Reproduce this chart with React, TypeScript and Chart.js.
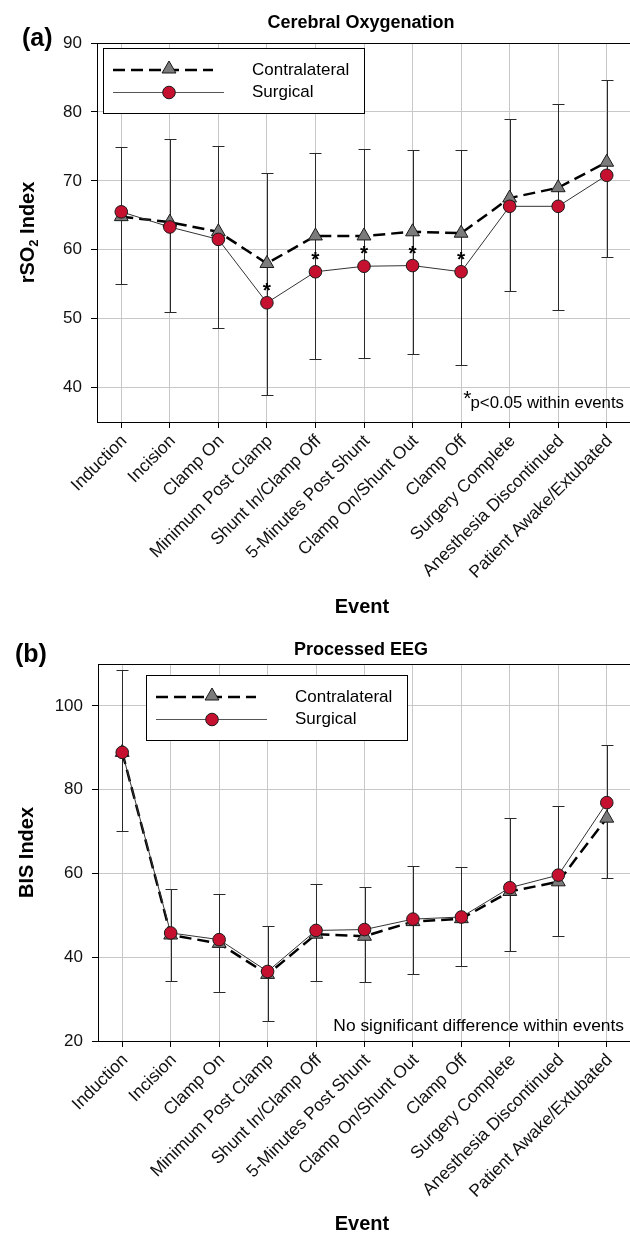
import React, { useEffect, useRef } from 'react';
import { Chart, registerables } from 'chart.js';

Chart.register(...registerables);

// ---------- DATA ----------
const events = [
  'Induction',
  'Incision',
  'Clamp On',
  'Minimum Post Clamp',
  'Shunt In/Clamp Off',
  '5-Minutes Post Shunt',
  'Clamp On/Shunt Out',
  'Clamp Off',
  'Surgery Complete',
  'Anesthesia Discontinued',
  'Patient Awake/Extubated',
];

const seriesLabels = ['Contralateral', 'Surgical'];

// (a) Cerebral Oxygenation (rSO2 index)
const rso2Contralateral = [64.8, 64.0, 62.6, 58.0, 62.0, 62.0, 62.6, 62.4, 67.5, 69.0, 72.7];
const rso2Surgical = [65.5, 63.3, 61.5, 52.3, 56.8, 57.6, 57.7, 56.8, 66.3, 66.3, 70.8];
const rso2ErrHigh = [74.9, 76.0, 75.1, 71.2, 74.0, 74.6, 74.5, 74.5, 79.0, 81.2, 84.7];
const rso2ErrLow = [55.0, 50.9, 48.7, 38.9, 44.1, 44.3, 44.9, 43.2, 54.0, 51.2, 58.9];
const rso2Significant = [false, false, false, true, true, true, true, true, false, false, false];
const rso2Ticks = [40, 50, 60, 70, 80, 90];

// (b) Processed EEG (BIS index)
const bisContralateral = [88.9, 45.3, 43.3, 35.9, 45.5, 45.0, 48.5, 49.2, 55.7, 58.0, 73.2];
const bisSurgical = [88.9, 45.8, 44.2, 36.6, 46.4, 46.6, 49.1, 49.6, 56.6, 59.6, 76.9];
const bisErrHigh = [108.5, 56.2, 55.0, 47.4, 57.4, 56.8, 61.8, 61.5, 73.2, 76.1, 90.7];
const bisErrLow = [70.2, 34.3, 31.8, 24.8, 34.4, 34.1, 36.0, 37.9, 41.6, 45.1, 58.8];
const bisSignificant = [false, false, false, false, false, false, false, false, false, false, false];
const bisTicks = [20, 40, 60, 80, 100];

// ---------- STYLE ----------
const FONT = "'Liberation Sans', Arial, Helvetica, sans-serif";
const RED = '#c5102f';
const GRAY = '#7b7b7b';
const EDGE = '#1a1a1a';
const GRID = '#c8c8c8';
const DASH = [12, 6];

type Panel = {
  contra: number[];
  surgical: number[];
  errHigh: number[];
  errLow: number[];
  significant: boolean[];
  yMin: number;
  yMax: number;
  yTicks: number[];
  title: string;
  panelLabel: string;
  yTitleMain: string;
  yTitleSub: string;
  yTitleRest: string;
  note: string;
  noteStar: boolean;
  noteSize: number;
  // layout (canvas coords)
  canvasTop: number;
  padTop: number;
  xHeight: number;
  yWidth: number;
  titleBaseline: number;
  panelLabelX: number;
  panelLabelBaseline: number;
  yTitleX: number;
  legendX: number;
  legendY: number;
  noteRight: number;
  noteBaseline: number;
};

const CANVAS_W = 640;
const CANVAS_H = 617;

const panels: Panel[] = [
  {
    contra: rso2Contralateral,
    surgical: rso2Surgical,
    errHigh: rso2ErrHigh,
    errLow: rso2ErrLow,
    significant: rso2Significant,
    yMin: 35,
    yMax: 90,
    yTicks: rso2Ticks,
    title: 'Cerebral Oxygenation',
    panelLabel: '(a)',
    yTitleMain: 'rSO',
    yTitleSub: '2',
    yTitleRest: ' Index',
    note: 'p<0.05 within events',
    noteStar: true,
    noteSize: 16.8,
    canvasTop: 0,
    padTop: 43,
    xHeight: 195,
    yWidth: 97,
    titleBaseline: 28,
    panelLabelX: 22,
    panelLabelBaseline: 46,
    yTitleX: 28,
    legendX: 103,
    legendY: 48,
    noteRight: 624,
    noteBaseline: 408,
  },
  {
    contra: bisContralateral,
    surgical: bisSurgical,
    errHigh: bisErrHigh,
    errLow: bisErrLow,
    significant: bisSignificant,
    yMin: 20,
    yMax: 110,
    yTicks: bisTicks,
    title: 'Processed EEG',
    panelLabel: '(b)',
    yTitleMain: 'BIS Index',
    yTitleSub: '',
    yTitleRest: '',
    note: 'No significant difference within events',
    noteStar: false,
    noteSize: 17.4,
    canvasTop: 617,
    padTop: 47,
    xHeight: 193,
    yWidth: 98,
    titleBaseline: 38,
    panelLabelX: 15,
    panelLabelBaseline: 45,
    yTitleX: 27,
    legendX: 146,
    legendY: 58,
    noteRight: 624,
    noteBaseline: 414,
  },
];

function drawTriangle(ctx: CanvasRenderingContext2D, x: number, y: number, r: number) {
  ctx.beginPath();
  for (let k = 0; k < 3; k++) {
    const a = (k * 2 * Math.PI) / 3;
    const px = x + Math.sin(a) * r;
    const py = y - Math.cos(a) * r;
    if (k === 0) ctx.moveTo(px, py);
    else ctx.lineTo(px, py);
  }
  ctx.closePath();
  ctx.fillStyle = GRAY;
  ctx.fill();
  ctx.lineWidth = 1;
  ctx.strokeStyle = EDGE;
  ctx.stroke();
}

function drawCircle(ctx: CanvasRenderingContext2D, x: number, y: number, r: number) {
  ctx.beginPath();
  ctx.arc(x, y, r, 0, Math.PI * 2);
  ctx.fillStyle = RED;
  ctx.fill();
  ctx.lineWidth = 1;
  ctx.strokeStyle = EDGE;
  ctx.stroke();
}

function makePlugin(p: Panel) {
  return {
    id: 'decor',
    beforeDatasetsDraw(chart: any) {
      const { ctx, chartArea, scales } = chart;
      const xs = scales.x;
      const ys = scales.y;
      ctx.save();
      // frame
      ctx.strokeStyle = '#000';
      ctx.lineWidth = 1;
      ctx.strokeRect(
        Math.round(chartArea.left) + 0.5,
        Math.round(chartArea.top) + 0.5,
        chartArea.right - chartArea.left,
        chartArea.bottom - chartArea.top
      );
      // error bars
      ctx.strokeStyle = '#2a2a2a';
      ctx.lineWidth = 1;
      for (let i = 0; i < events.length; i++) {
        const x = Math.round(xs.getPixelForValue(i)) + 0.5;
        const yh = Math.round(ys.getPixelForValue(p.errHigh[i])) + 0.5;
        const yl = Math.round(ys.getPixelForValue(p.errLow[i])) + 0.5;
        ctx.beginPath();
        ctx.moveTo(x, yh);
        ctx.lineTo(x, yl);
        ctx.moveTo(x - 6, yh);
        ctx.lineTo(x + 6, yh);
        ctx.moveTo(x - 6, yl);
        ctx.lineTo(x + 6, yl);
        ctx.stroke();
      }
      ctx.restore();
    },
    afterDraw(chart: any) {
      const { ctx, chartArea, scales } = chart;
      const xs = scales.x;
      const ys = scales.y;
      ctx.save();
      ctx.fillStyle = '#000';

      // chart title
      ctx.font = `bold 18px ${FONT}`;
      ctx.textAlign = 'center';
      ctx.textBaseline = 'alphabetic';
      ctx.fillText(p.title, 361, p.titleBaseline);

      // panel label
      ctx.font = `bold 25px ${FONT}`;
      ctx.textAlign = 'left';
      ctx.fillText(p.panelLabel, p.panelLabelX, p.panelLabelBaseline);

      // x axis title
      ctx.font = `bold 20px ${FONT}`;
      ctx.textAlign = 'center';
      ctx.fillText('Event', 362, 613);

      // y axis title (rotated, with optional subscript)
      const midY = (chartArea.top + chartArea.bottom) / 2;
      ctx.save();
      ctx.translate(p.yTitleX, midY);
      ctx.rotate(-Math.PI / 2);
      ctx.textBaseline = 'middle';
      ctx.textAlign = 'left';
      ctx.font = `bold 20px ${FONT}`;
      const w1 = ctx.measureText(p.yTitleMain).width;
      const w3 = ctx.measureText(p.yTitleRest).width;
      ctx.font = `bold 13px ${FONT}`;
      const w2 = ctx.measureText(p.yTitleSub).width;
      const total = w1 + w2 + w3;
      let cx = -total / 2;
      ctx.font = `bold 20px ${FONT}`;
      ctx.fillText(p.yTitleMain, cx, 0);
      cx += w1;
      if (p.yTitleSub) {
        ctx.font = `bold 13px ${FONT}`;
        ctx.fillText(p.yTitleSub, cx, 6);
        cx += w2;
        ctx.font = `bold 20px ${FONT}`;
        ctx.fillText(p.yTitleRest, cx, 0);
      }
      ctx.restore();

      // significance asterisks
      ctx.font = `bold 21px ${FONT}`;
      ctx.textAlign = 'center';
      ctx.textBaseline = 'alphabetic';
      for (let i = 0; i < events.length; i++) {
        if (!p.significant[i]) continue;
        const x = xs.getPixelForValue(i);
        const y = ys.getPixelForValue(p.surgical[i]);
        ctx.fillText('*', x, y - 6);
      }

      // note
      ctx.font = `${p.noteSize}px ${FONT}`;
      ctx.textAlign = 'right';
      ctx.fillText(p.note, p.noteRight, p.noteBaseline);
      if (p.noteStar) {
        const nw = ctx.measureText(p.note).width;
        ctx.font = `21px ${FONT}`;
        ctx.fillText('*', p.noteRight - nw + 1, p.noteBaseline - 3);
      }

      // legend
      const lx = p.legendX;
      const ly = p.legendY;
      ctx.fillStyle = '#fff';
      ctx.fillRect(lx + 0.5, ly + 0.5, 261, 65);
      ctx.strokeStyle = '#000';
      ctx.lineWidth = 1;
      ctx.strokeRect(lx + 0.5, ly + 0.5, 261, 65);
      const r1 = ly + 22;
      const r2 = ly + 44.5;
      // contralateral entry
      ctx.save();
      ctx.strokeStyle = '#000';
      ctx.lineWidth = 2.5;
      ctx.setLineDash(DASH);
      ctx.beginPath();
      ctx.moveTo(lx + 10, r1);
      ctx.lineTo(lx + 110, r1);
      ctx.stroke();
      ctx.restore();
      drawTriangle(ctx, lx + 66, r1 - 1, 8);
      // surgical entry
      ctx.strokeStyle = '#555';
      ctx.lineWidth = 1;
      ctx.beginPath();
      ctx.moveTo(lx + 10, r2);
      ctx.lineTo(lx + 121, r2);
      ctx.stroke();
      drawCircle(ctx, lx + 66, r2, 6.3);
      ctx.fillStyle = '#000';
      ctx.font = `17px ${FONT}`;
      ctx.textAlign = 'left';
      ctx.textBaseline = 'middle';
      ctx.fillText(seriesLabels[0], lx + 149, r1);
      ctx.fillText(seriesLabels[1], lx + 149, r2);

      ctx.restore();
    },
  };
}

function PanelChart({ p }: { p: Panel }) {
  const ref = useRef<HTMLCanvasElement | null>(null);
  useEffect(() => {
    if (!ref.current) return;
    const chart = new Chart(ref.current, {
      type: 'line',
      data: {
        labels: events,
        datasets: [
          {
            label: seriesLabels[1],
            data: p.surgical,
            borderColor: '#333',
            borderWidth: 1,
            pointStyle: 'circle',
            pointRadius: 6.3,
            pointHoverRadius: 6.3,
            pointBackgroundColor: RED,
            pointBorderColor: EDGE,
            pointBorderWidth: 1,
            tension: 0,
            order: 0,
          },
          {
            label: seriesLabels[0],
            data: p.contra,
            borderColor: '#000',
            borderWidth: 2.5,
            borderDash: DASH,
            pointStyle: 'triangle',
            pointRadius: 8,
            pointHoverRadius: 8,
            pointBackgroundColor: GRAY,
            pointBorderColor: EDGE,
            pointBorderWidth: 1,
            tension: 0,
            order: 1,
          },
        ],
      },
      options: {
        responsive: false,
        animation: false,
        devicePixelRatio: 1,
        events: [],
        layout: { padding: { top: p.padTop, right: 4, left: 0, bottom: 0 } },
        plugins: {
          legend: { display: false },
          title: { display: false },
          tooltip: { enabled: false },
        },
        scales: {
          x: {
            type: 'category',
            offset: true,
            grid: { color: GRID, tickColor: '#000', tickLength: 6, offset: false, lineWidth: 1 },
            border: { color: '#000', width: 1 },
            ticks: {
              autoSkip: false,
              maxRotation: 45,
              minRotation: 45,
              color: '#111',
              padding: 3,
              labelOffset: 3,
              font: { family: FONT, size: 17.4 },
            },
            afterFit: (s: any) => {
              s.height = p.xHeight;
            },
          },
          y: {
            type: 'linear',
            min: p.yMin,
            max: p.yMax,
            afterBuildTicks: (s: any) => {
              s.ticks = p.yTicks.map((v) => ({ value: v }));
            },
            grid: { color: GRID, tickColor: '#000', tickLength: 6, lineWidth: 1 },
            border: { color: '#000', width: 1 },
            ticks: {
              color: '#111',
              padding: 9,
              font: { family: FONT, size: 17 },
            },
            afterFit: (s: any) => {
              s.width = p.yWidth;
            },
          },
        },
      } as any,
      plugins: [makePlugin(p)],
    } as any);
    return () => chart.destroy();
  }, [p]);
  return (
    <canvas
      ref={ref}
      width={CANVAS_W}
      height={CANVAS_H}
      style={{ position: 'absolute', left: 0, top: p.canvasTop, width: CANVAS_W, height: CANVAS_H }}
    />
  );
}

export default function App() {
  return (
    <div
      style={{
        position: 'absolute',
        left: 0,
        top: 0,
        width: 630,
        height: 1234,
        overflow: 'hidden',
        background: '#fff',
      }}
    >
      {panels.map((p) => (
        <PanelChart key={p.panelLabel} p={p} />
      ))}
    </div>
  );
}
